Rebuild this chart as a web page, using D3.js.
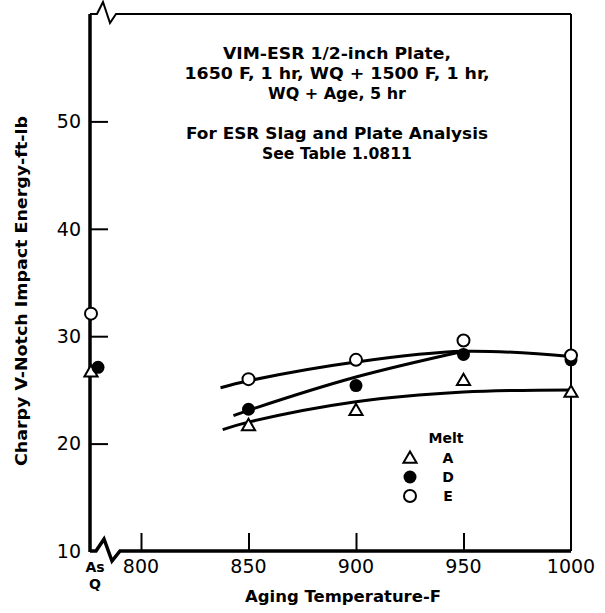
<!DOCTYPE html>
<html>
<head>
<meta charset="utf-8">
<script src="https://cdn.jsdelivr.net/npm/d3@7"></script>
<style>
  body { margin: 0; background: #fff; }
  text { font-family: "DejaVu Sans", Verdana, sans-serif; fill: #000; }
  .lbl { font-weight: bold; font-size: 14px; }
  .tick { font-size: 19px; }
</style>
</head>
<body>
<div id="chart"></div>
<script>
// ---- data ----
const temps = [850, 900, 950, 1000];
const melts = ["A", "D", "E"];
const energyA = [21.7, 23.1, 25.9, 24.8];
const energyD = [23.2, 25.4, 28.3, 27.8];
const energyE = [26.0, 27.8, 29.6, 28.2];
// as-quenched values (plotted on the y axis)
const asQ = [26.7, 27.1, 32.1];

// faired curves drawn through the data
const curveTempA = [838, 850, 900, 950, 1000];
const curveValA = [21.3, 22.0, 23.9, 24.8, 25.0];
const curveTempD = [843, 850, 900, 950];
const curveValD = [22.6, 23.1, 26.2, 28.6];
const curveTempE = [837, 850, 900, 950, 1000];
const curveValE = [25.2, 25.85, 27.6, 28.6, 28.1];

const xTicks = [800, 850, 900, 950, 1000];
const yTicks = [10, 20, 30, 40, 50];

const note = [
  "VIM-ESR 1/2-inch Plate,",
  "1650 F, 1 hr, WQ + 1500 F, 1 hr,",
  "WQ + Age, 5 hr",
  "",
  "For ESR Slag and Plate Analysis",
  "See Table 1.0811"
];
// width each note line takes in the reference (layout only)
const noteWidth = [228, 305, 138, 0, 302, 150];

const width = 605, height = 613;
const svg = d3.select("#chart").append("svg")
  .attr("width", width).attr("height", height);

const x = d3.scaleLinear().domain([800, 1000]).range([141, 571]);
const y = d3.scaleLinear().domain([10, 60]).range([551, 14]);
const axisX = 90;            // left frame, where "As Q" sits
const yTop = y(60), yBot = y(10), xRight = x(1000);

// frame: top line with break, thin right line, thick left line, bottom with break
svg.append("path")
  .attr("d", `M${axisX},${yTop} L97,${yTop} L103,${yTop - 12} L110,${yTop + 9} L116,${yTop} L${xRight},${yTop}`)
  .attr("fill", "none").attr("stroke", "#000").attr("stroke-width", 2);
svg.append("line")
  .attr("x1", xRight).attr("x2", xRight).attr("y1", yTop).attr("y2", yBot)
  .attr("stroke", "#000").attr("stroke-width", 2);
svg.append("line")
  .attr("x1", axisX).attr("x2", axisX).attr("y1", yTop).attr("y2", yBot + 1)
  .attr("stroke", "#000").attr("stroke-width", 3.5);
svg.append("path")
  .attr("d", `M${axisX},${yBot} L96,${yBot} L104,${yBot - 12} L112,${yBot + 10} L120,${yBot} L${xRight},${yBot}`)
  .attr("fill", "none").attr("stroke", "#000").attr("stroke-width", 3.5);

// ticks (inward) and labels
const yAxis = d3.axisRight(y).tickValues(yTicks.slice(1)).tickSize(18).tickFormat("");
svg.append("g").attr("transform", `translate(${axisX},0)`).call(yAxis)
  .call(g => g.select(".domain").remove())
  .selectAll("line").attr("stroke-width", 2);
svg.selectAll(".ylab").data(yTicks).enter().append("text")
  .attr("class", "tick")
  .attr("x", 81).attr("y", d => y(d)).attr("dy", "0.36em")
  .attr("text-anchor", "end").text(d => d);

const xAxis = d3.axisTop(x).tickValues(xTicks.slice(0, 4)).tickSize(18).tickFormat("");
svg.append("g").attr("transform", `translate(0,${yBot})`).call(xAxis)
  .call(g => g.select(".domain").remove())
  .selectAll("line").attr("stroke-width", 2);
svg.selectAll(".xlab").data(xTicks).enter().append("text")
  .attr("class", "tick")
  .attr("x", d => x(d)).attr("y", yBot + 22)
  .attr("text-anchor", "middle").text(d => d);

svg.append("text").attr("class", "lbl")
  .attr("x", 95).attr("y", 572).attr("text-anchor", "middle").text("As");
svg.append("text").attr("class", "lbl")
  .attr("x", 95).attr("y", 589).attr("text-anchor", "middle").text("Q");

// axis titles
svg.append("text").attr("class", "lbl").style("font-size", "15px")
  .attr("transform", `translate(27,291) rotate(-90)`)
  .attr("text-anchor", "middle")
  .attr("textLength", 350).attr("lengthAdjust", "spacingAndGlyphs")
  .text("Charpy V-Notch Impact Energy-ft-lb");
svg.append("text").attr("class", "lbl").style("font-size", "15px")
  .attr("x", 343).attr("y", 602)
  .attr("text-anchor", "middle")
  .attr("textLength", 196).attr("lengthAdjust", "spacingAndGlyphs")
  .text("Aging Temperature-F");

// annotation
svg.append("g").selectAll("text").data(note).enter().append("text")
  .attr("class", "lbl").style("font-size", "15px")
  .attr("x", 337).attr("y", (d, i) => 59 + i * 20)
  .attr("text-anchor", "middle")
  .attr("textLength", (d, i) => noteWidth[i] || null)
  .attr("lengthAdjust", "spacingAndGlyphs")
  .text(d => d);

// curves
const line = d3.line().x(d => x(d[0])).y(d => y(d[1])).curve(d3.curveCatmullRom.alpha(0.5));
[[curveTempA, curveValA], [curveTempD, curveValD], [curveTempE, curveValE]].forEach(([t, v]) => {
  svg.append("path")
    .attr("d", line(t.map((d, i) => [d, v[i]])))
    .attr("fill", "none").attr("stroke", "#000").attr("stroke-width", 3);
});

// markers
const tri = d3.symbol().type(d3.symbolTriangle).size(75);
function drawMarker(g, melt, cx, cy) {
  if (melt === "A") {
    g.append("path").attr("d", tri).attr("transform", `translate(${cx},${cy + 1})`)
      .attr("fill", "#fff").attr("stroke", "#000").attr("stroke-width", 2);
  } else if (melt === "D") {
    g.append("circle").attr("cx", cx).attr("cy", cy).attr("r", 6.5).attr("fill", "#000");
  } else {
    g.append("circle").attr("cx", cx).attr("cy", cy).attr("r", 6)
      .attr("fill", "#fff").attr("stroke", "#000").attr("stroke-width", 2);
  }
}
const pts = svg.append("g");
const series = { A: energyA, D: energyD, E: energyE };
melts.forEach((m, k) => {
  series[m].forEach((v, i) => drawMarker(pts, m, x(temps[i]), y(v)));
  drawMarker(pts, m, axisX + (m === "D" ? 8 : 1), y(asQ[k]));
});

// legend
svg.append("text").attr("class", "lbl")
  .attr("x", 446).attr("y", 443).attr("text-anchor", "middle").text("Melt");
melts.forEach((m, i) => {
  const ly = 458 + i * 19;
  drawMarker(svg, m, 410, ly);
  svg.append("text").attr("class", "lbl")
    .attr("x", 448).attr("y", ly).attr("dy", "0.36em")
    .attr("text-anchor", "middle").text(m);
});
</script>
</body>
</html>
